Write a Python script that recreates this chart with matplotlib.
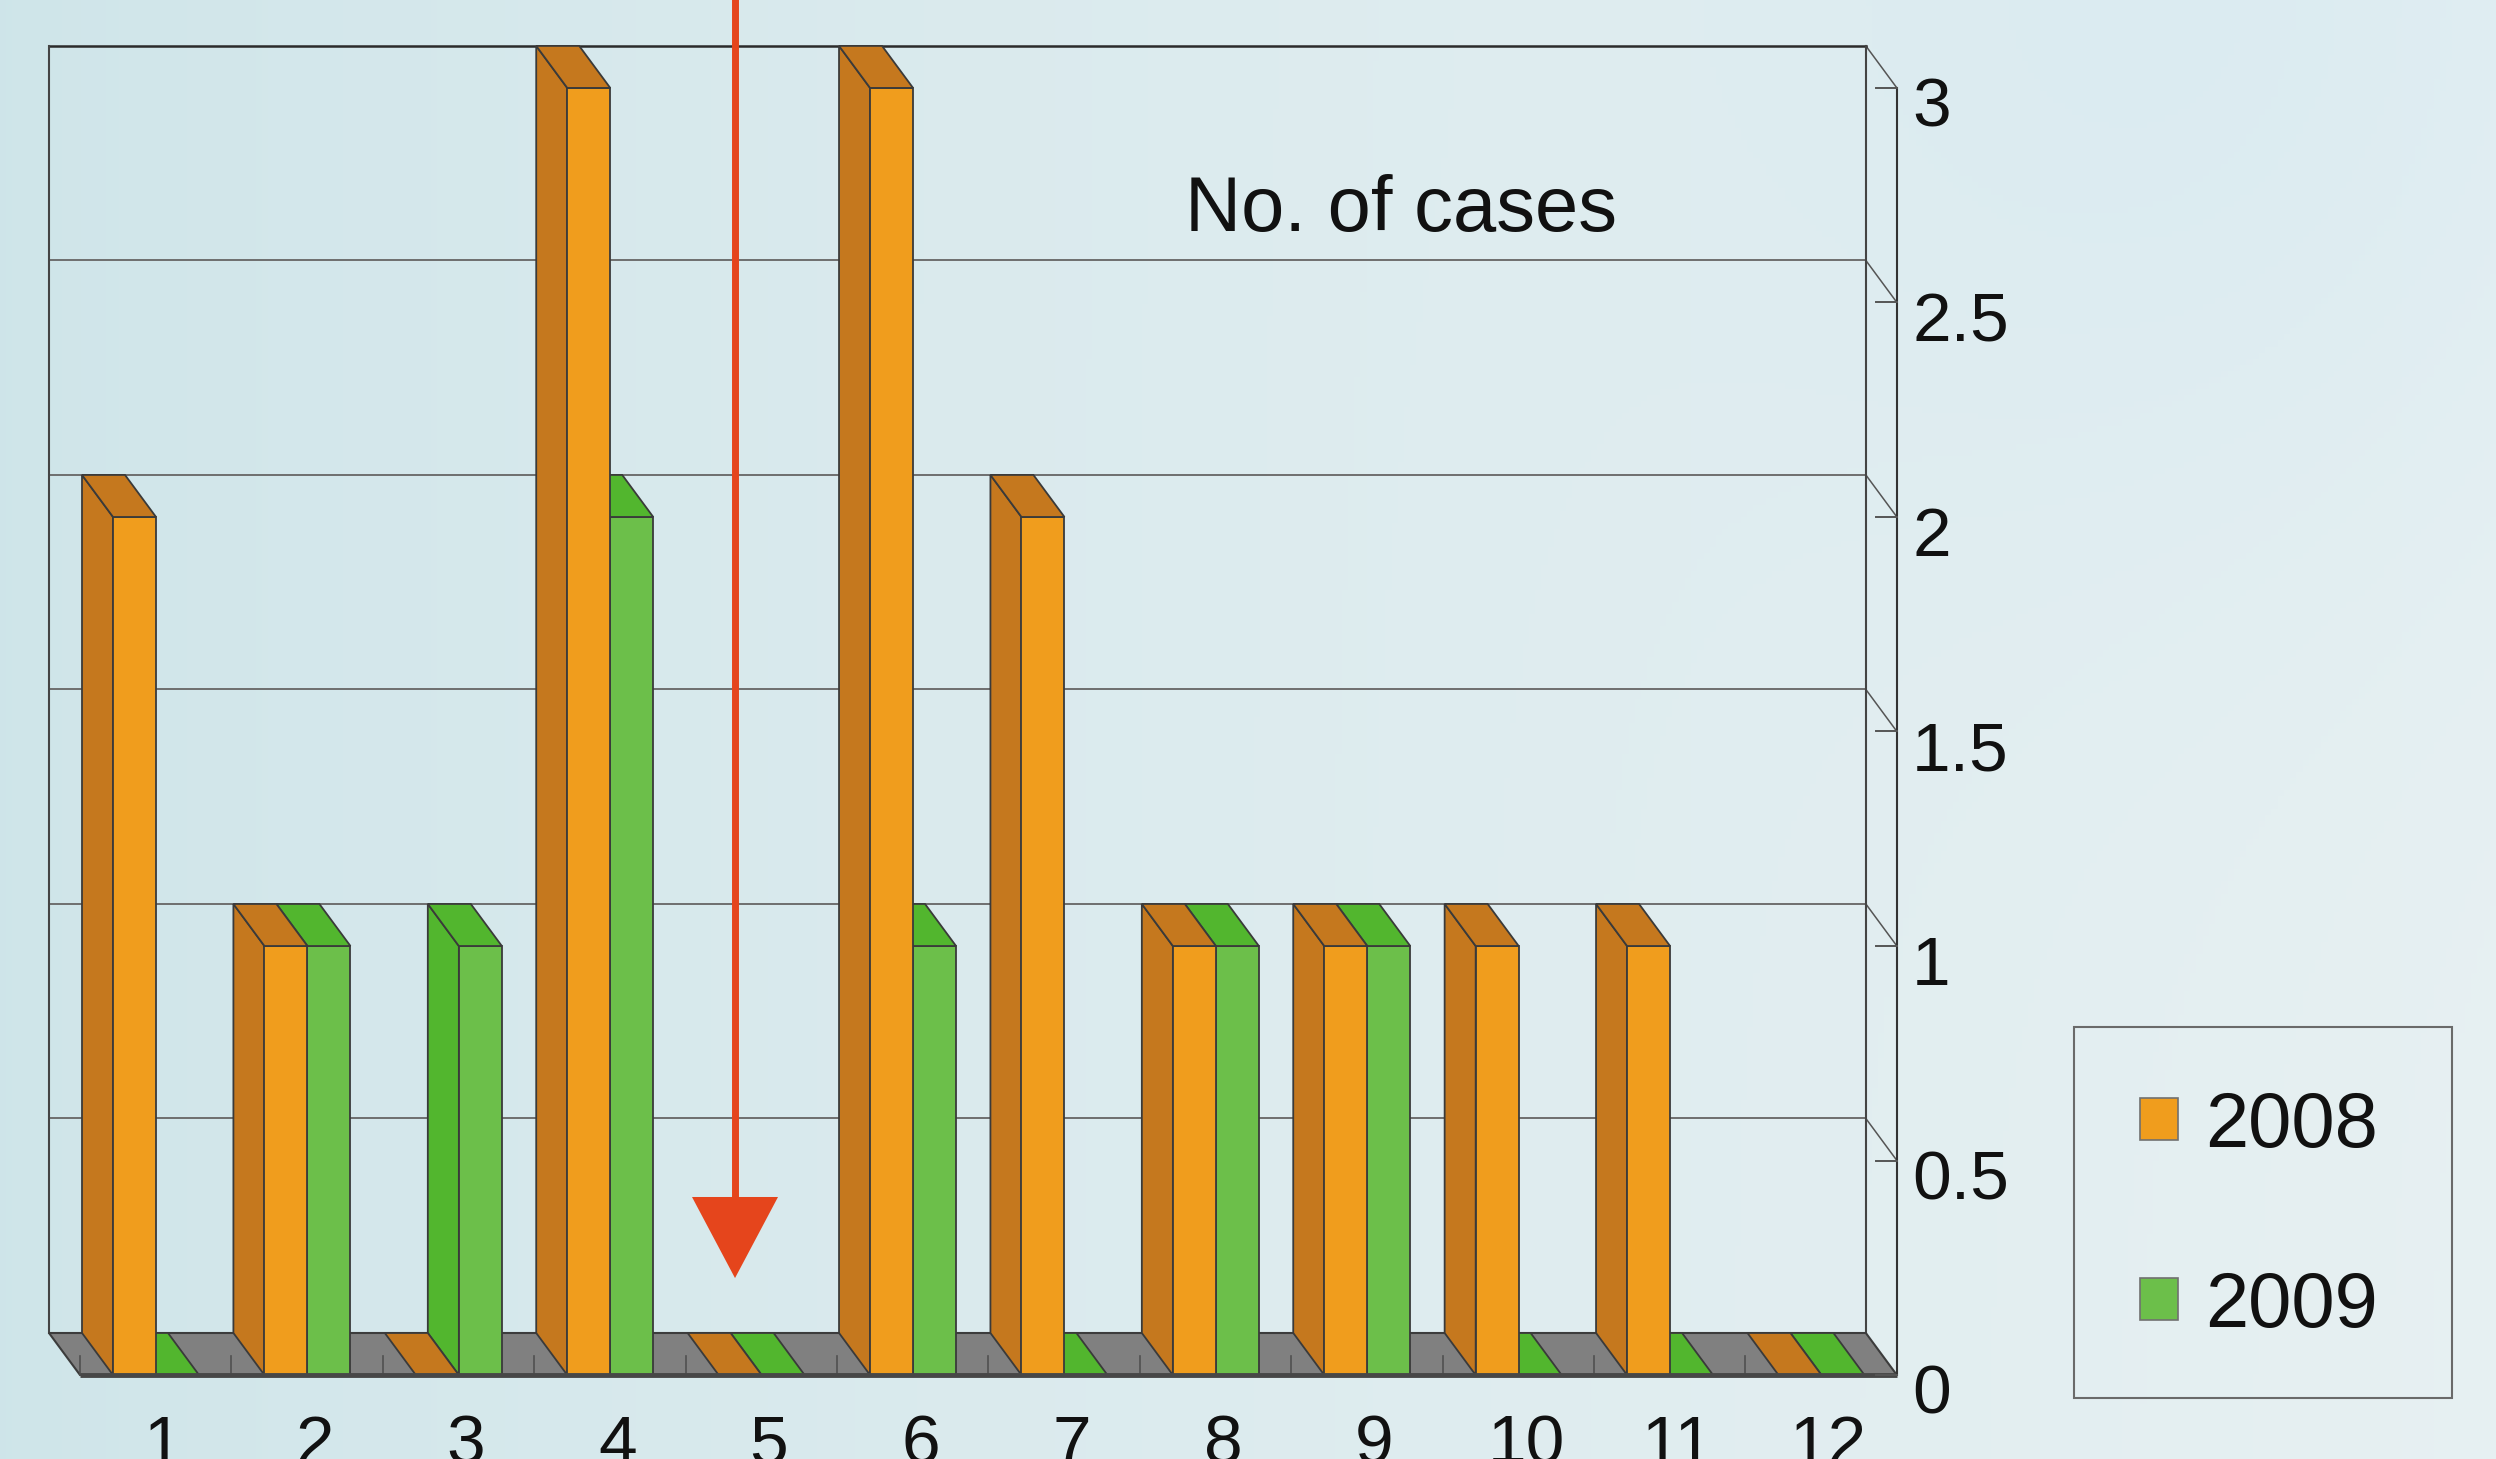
import numpy as np
import matplotlib.pyplot as plt
from matplotlib.patches import Polygon, Rectangle

plt.rcParams['font.family'] = ['Liberation Sans', 'DejaVu Sans']

# data
months = ['1', '2', '3', '4', '5', '6', '7', '8', '9', '10', '11', '12']
cases_2008 = [2, 1, 0, 3, 0, 3, 2, 1, 1, 1, 1, 0]
cases_2009 = [0, 1, 1, 2, 0, 1, 0, 1, 1, 0, 0, 0]
series_names = ['2008', '2009']
y_ticks = [0, 0.5, 1, 1.5, 2, 2.5, 3]
y_tick_labels = ['0', '0.5', '1', '1.5', '2', '2.5', '3']

front_cols = ['#F09D1D', '#6CBF4A']
side_cols = ['#C5781E', '#52B62E']
edge = '#3a3a3a'

W, H = 2496, 1459
DX, DY = 0.205, 0.098      # depth offset of the fake 3d box
BW = 0.284                 # bar width in category units
offsets = [0.218, 0.502]
ymax = 3

fig = plt.figure(figsize=(W / 100, H / 100), dpi=100)
ax = fig.add_axes([0, 0, 1, 1])
xl = (-0.3236, 16.162)
yl = (-0.2937, 3.107)
ax.set_xlim(*xl)
ax.set_ylim(*yl)
ax.axis('off')

# background gradient
gx, gy = np.meshgrid(np.linspace(0, 1, 400), np.linspace(0, 1, 240))
left = np.array([0.81, 0.898, 0.915])
right = np.array([0.905, 0.942, 0.950])
t = (gx ** 0.75)[..., None]
img = left + (right - left) * t
tint = 0.035 * np.exp(-((gx - 0.9) ** 2 / 0.04 + gy ** 2 / 0.15))
img[..., 0] -= tint
img[..., 1] -= tint * 0.4
ax.imshow(np.clip(img, 0, 1), extent=(xl[0], xl[1], yl[0], yl[1]), aspect='auto', zorder=0)

n = len(months)

# back wall + grid
for v in y_ticks[1:-1]:
    ax.plot([0, n], [v, v], color='#6e6e6e', lw=1.4, zorder=1)
for v in y_ticks[1:]:
    ax.plot([n, n + DX], [v, v - DY], color='#555555', lw=1.1, zorder=1)
ax.plot([0, n], [ymax, ymax], color='#2b2b2b', lw=1.8, zorder=1)
ax.plot([0, 0], [0, ymax], color='#444444', lw=1.5, zorder=1)
ax.plot([n, n], [0, ymax], color='#444444', lw=1.5, zorder=1)

# floor
ax.add_patch(Polygon([(0, 0), (n, 0), (n + DX, -DY), (DX, -DY)], closed=True,
                     fc='#808080', ec='#3c3c3c', lw=1.5, zorder=2))
for k in range(n + 1):
    ax.plot([k + DX, k + DX], [-DY, -DY + 0.045], color='#505050', lw=1.2, zorder=2)


def draw_bar(a, h, fc, sc):
    b = a + BW
    if h > 0:
        ax.add_patch(Polygon([(a, 0), (a + DX, -DY), (a + DX, h - DY), (a, h)],
                             closed=True, fc=sc, ec=edge, lw=1.3, zorder=3))
        ax.add_patch(Polygon([(a + DX, -DY), (b + DX, -DY), (b + DX, h - DY), (a + DX, h - DY)],
                             closed=True, fc=fc, ec=edge, lw=1.3, zorder=3))
    ax.add_patch(Polygon([(a, h), (b, h), (b + DX, h - DY), (a + DX, h - DY)],
                         closed=True, fc=sc, ec=edge, lw=1.3, zorder=3))


data = [cases_2008, cases_2009]
for i in reversed(range(n)):
    for s in reversed(range(2)):
        draw_bar(i + offsets[s], data[s][i], front_cols[s], side_cols[s])

ax.plot([DX, n + DX], [-DY, -DY], color='#474747', lw=3.5, zorder=4, solid_capstyle='butt')

# front value axis
ax.plot([n + DX, n + DX], [-DY, ymax - DY], color='#333333', lw=1.5, zorder=4)
for v, lab in zip(y_ticks, y_tick_labels):
    ax.plot([n + DX - 0.14, n + DX], [v - DY, v - DY], color='#555555', lw=1.4, zorder=4)
    ax.text(n + DX + 0.1, v - DY - 0.09, lab, fontsize=50, ha='left', va='baseline', color='#111111')

for i, lab in enumerate(months):
    ax.text(i + DX + 0.55, -0.305, lab, fontsize=50, ha='center', va='baseline', color='#111111')

ax.text(1401 / W, 1 - 231 / H, 'No. of cases', transform=fig.transFigure, fontsize=56,
        ha='center', va='baseline', color='#111111')

# red arrow
arrow_x = 4.531
ax.plot([arrow_x, arrow_x], [3.2, 0.31], color='#E5451C', lw=5, solid_capstyle='butt', zorder=5)
ax.add_patch(Polygon([(arrow_x - 0.284, 0.317), (arrow_x + 0.284, 0.317), (arrow_x, 0.128)],
                     closed=True, fc='#E5451C', ec='none', zorder=5))

# legend
ax.add_patch(Rectangle((2074 / W, 1 - 1398 / H), (2452 - 2074) / W, (1398 - 1027) / H,
                       transform=fig.transFigure, fc='none', ec='#6a6a6a', lw=1.5, zorder=6))
leg_y = [1098, 1278]
for s in range(2):
    ax.add_patch(Rectangle((2140 / W, 1 - (leg_y[s] + 42) / H), 38 / W, 42 / H,
                           transform=fig.transFigure, fc=front_cols[s], ec='#707070', lw=1.2, zorder=6))
    ax.text(2205 / W, 1 - (leg_y[s] + 49) / H, series_names[s], transform=fig.transFigure,
            fontsize=56, ha='left', va='baseline', color='#111111')

fig.savefig('out.png', dpi=100)
